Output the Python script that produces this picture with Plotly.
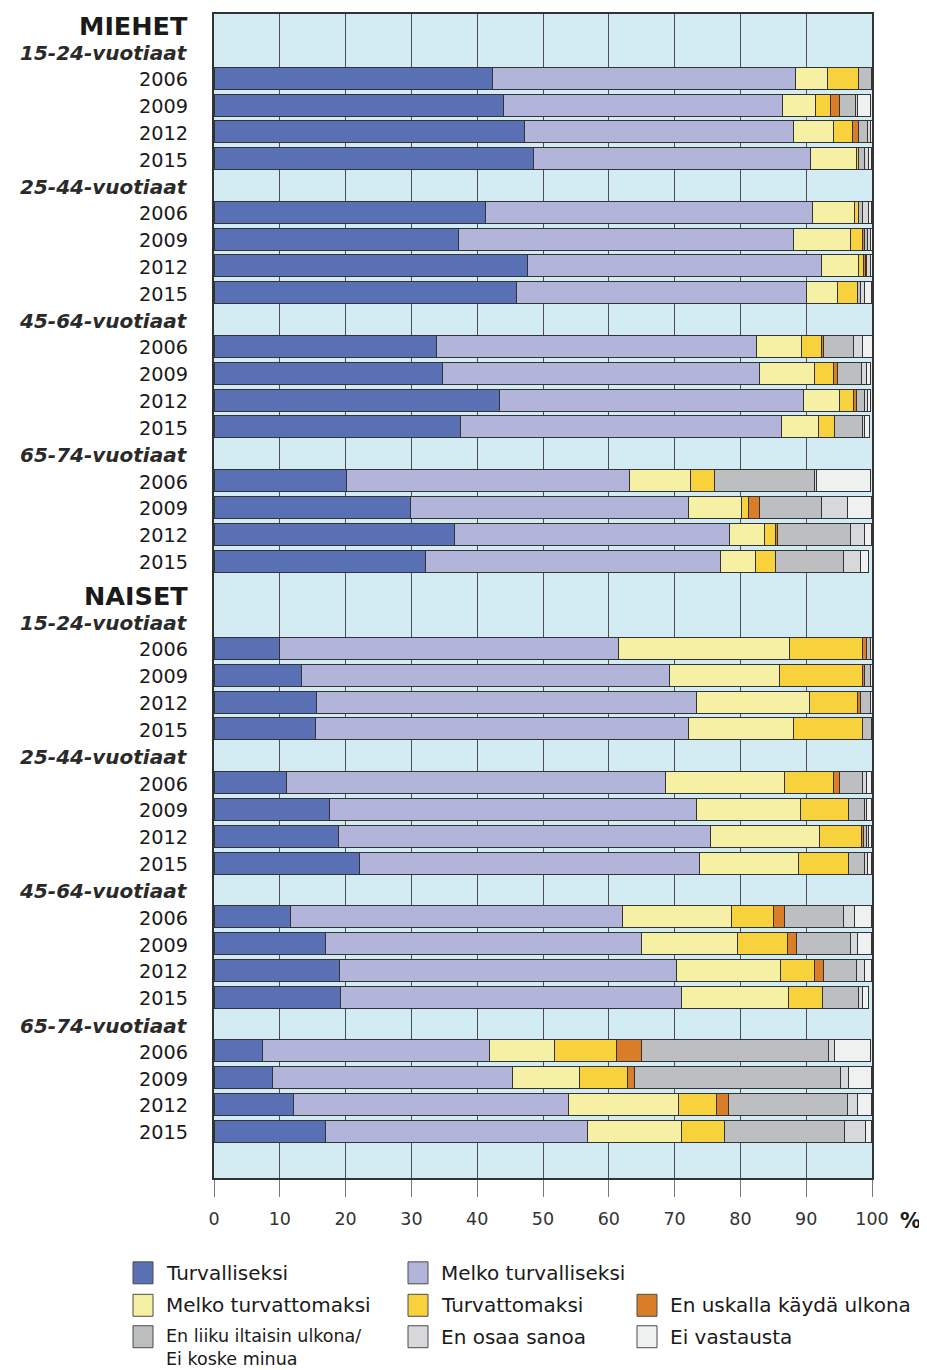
import plotly.graph_objects as go

# ---------------- data ----------------
sections = ["MIEHET", "NAISET"]
age_groups = ["15-24-vuotiaat", "25-44-vuotiaat", "45-64-vuotiaat", "65-74-vuotiaat"]
years = ["2006", "2009", "2012", "2015"]

series_names = [
    "Turvalliseksi",
    "Melko turvalliseksi",
    "Melko turvattomaksi",
    "Turvattomaksi",
    "En uskalla käydä ulkona",
    "En liiku iltaisin ulkona/<br>Ei koske minua",
    "En osaa sanoa",
    "Ei vastausta",
]

# order: MIEHET 15-24 (2006, 2009, 2012, 2015), 25-44, 45-64, 65-74, then NAISET likewise
turvalliseksi = [42.3, 44.0, 47.2, 48.5, 41.2, 37.2, 47.6, 46.0, 33.8, 34.7, 43.4, 37.4, 20.2, 29.8, 36.5, 32.1,
                 9.9, 13.3, 15.6, 15.4, 11.0, 17.6, 18.9, 22.1, 11.7, 16.9, 19.1, 19.2, 7.4, 8.9, 12.1, 16.9]
melko_turvalliseksi = [46.0, 42.4, 40.9, 42.1, 49.8, 50.9, 44.8, 44.0, 48.7, 48.2, 46.2, 48.8, 43.0, 42.3, 41.9, 44.8,
                       51.5, 56.0, 57.8, 56.7, 57.6, 55.8, 56.6, 51.7, 50.4, 48.1, 51.2, 51.8, 34.5, 36.4, 41.8, 39.8]
melko_turvattomaksi = [4.9, 5.0, 6.0, 7.0, 6.4, 8.6, 5.5, 4.7, 6.8, 8.4, 5.5, 5.6, 9.2, 8.1, 5.3, 5.4,
                       26.1, 16.7, 17.1, 16.0, 18.1, 15.7, 16.5, 15.1, 16.5, 14.6, 15.8, 16.3, 9.8, 10.2, 16.7, 14.3]
turvattomaksi = [4.8, 2.3, 2.9, 0.4, 0.5, 1.9, 0.8, 3.1, 3.0, 2.9, 2.1, 2.5, 3.7, 1.1, 1.7, 3.1,
                 11.0, 12.6, 7.3, 10.4, 7.5, 7.4, 6.4, 7.5, 6.4, 7.5, 5.2, 5.2, 9.5, 7.3, 5.8, 6.6]
en_uskalla = [0, 1.4, 0.9, 0, 0, 0.3, 0.3, 0, 0.4, 0.5, 0.4, 0, 0, 1.6, 0.2, 0,
              0.7, 0.2, 0.5, 0, 0.9, 0, 0.3, 0, 1.7, 1.4, 1.3, 0, 3.7, 1.1, 1.8, 0]
en_liiku = [1.9, 2.4, 1.4, 0.9, 0.6, 0.4, 0.2, 0.4, 4.5, 3.7, 1.3, 4.2, 15.2, 9.5, 11.1, 10.3,
            0.5, 0.9, 1.5, 1.4, 3.5, 2.3, 0.4, 2.4, 9.0, 8.2, 5.0, 5.5, 28.5, 31.3, 18.1, 18.2]
en_osaa_sanoa = [0, 0.3, 0.4, 0.5, 1.0, 0.4, 0.5, 0.7, 1.4, 0.7, 0.4, 0.4, 0.3, 3.9, 2.2, 2.6,
                 0, 0, 0, 0, 0.5, 0.3, 0.4, 0.5, 1.7, 1.1, 1.3, 0.5, 0.9, 1.3, 1.5, 3.2]
ei_vastausta = [0.1, 2.0, 0.3, 0.5, 0.4, 0.3, 0.3, 1.0, 1.4, 0.7, 0.5, 0.7, 8.2, 3.6, 1.0, 1.2,
                0.3, 0.3, 0.2, 0.1, 0.8, 0.8, 0.4, 0.6, 2.5, 2.1, 1.0, 1.0, 5.4, 3.4, 2.1, 0.9]

series_values = [turvalliseksi, melko_turvalliseksi, melko_turvattomaksi, turvattomaksi,
                 en_uskalla, en_liiku, en_osaa_sanoa, ei_vastausta]

x_ticks = [0, 10, 20, 30, 40, 50, 60, 70, 80, 90, 100]

# ---------------- style / layout ----------------
colors = ["#5a70b5", "#b3b4da", "#f5f0a4", "#f8d23c", "#d97d29", "#bdbebf", "#d7d8d9", "#eff0f0"]
FONT = "DejaVu Sans"
OFF = 8                                   # page body margin
W, H = 927 - OFF, 1370 - OFF
PL, PR, PT, PB = 214, 872, 12, 1178      # plot area in window pixels
ROW = 26.87                              # pixels per row
SECTION_EXTRA = 0.26                     # extra gap before second section (rows)
TOP = -0.393
BOTTOM = TOP + (PB - PT) / ROW


def px_x(px):
    return (px - PL) / (PR - PL)


def px_y(py):
    return (PB - py) / (PB - PT)


bar_pos = []
labels = []
rows_per_section = 1 + len(age_groups) * (1 + len(years))
for s, sec in enumerate(sections):
    r = s * rows_per_section + s * SECTION_EXTRA
    labels.append((r, sec, "section"))
    r += 1
    for g in age_groups:
        labels.append((r, g, "group"))
        r += 1
        for yr in years:
            labels.append((r, yr, "year"))
            bar_pos.append(r)
            r += 1

fig = go.Figure()
for name, col, vals in zip(series_names, colors, series_values):
    fig.add_trace(go.Bar(
        x=[v if v else None for v in vals],
        y=bar_pos,
        orientation="h",
        width=0.82,
        name=name.replace("<br>", " "),
        marker=dict(color=col, line=dict(color="#333333", width=1)),
        showlegend=False,
    ))

annotations = []
for pos, text, kind in labels:
    if kind == "section":
        font = dict(family=FONT, size=25.5, color="#1a1a1a")
        txt = "<b>%s</b>" % text
    elif kind == "group":
        font = dict(family=FONT, size=20, color="#2a2a2a")
        txt = "<b><i>%s</i></b>" % text
    else:
        font = dict(family=FONT, size=19.3, color="#1a1a1a")
        txt = text
    annotations.append(dict(
        x=px_x(189.5), xref="paper", y=pos, yref="y", text=txt, showarrow=False,
        xanchor="right", yanchor="middle", yshift=-1.5, font=font,
    ))

annotations.append(dict(
    x=px_x(898), xref="paper", y=px_y(1221), yref="paper", text="<b>%</b>", showarrow=False,
    xanchor="left", yanchor="middle", font=dict(family=FONT, size=21, color="#1a1a1a"),
))

# custom legend (3 x 3 grid, first row has two entries)
leg_rows = [1273, 1305.5, 1337]
leg_cols = [133, 408, 637]
leg_slots = [(0, 0), (0, 1), (1, 0), (1, 1), (1, 2), (2, 0), (2, 1), (2, 2)]
LEG_SIZE = 20
shapes = []
for name, col, (ri, ci) in zip(series_names, colors, leg_slots):
    cy = leg_rows[ri]
    x0 = leg_cols[ci]
    shapes.append(dict(
        type="rect", xref="paper", yref="paper",
        x0=px_x(x0), x1=px_x(x0 + 20), y0=px_y(cy + 11), y1=px_y(cy - 11),
        fillcolor=col, line=dict(color="#4a4a4a", width=1),
    ))
    n_lines = name.count("<br>") + 1
    size = LEG_SIZE if n_lines == 1 else 17.5
    annotations.append(dict(
        x=px_x(x0 + 31), xref="paper", y=px_y(cy - 0.65 * size - 1), yref="paper",
        text=name, showarrow=False, xanchor="left", yanchor="top", align="left",
        font=dict(family=FONT, size=size, color="#1a1a1a"),
    ))

fig.update_layout(
    width=W, height=H,
    margin=dict(l=PL - OFF, r=W - (PR - OFF), t=PT - OFF, b=H - (PB - OFF)),
    barmode="stack",
    plot_bgcolor="#d3ebf2",
    paper_bgcolor="white",
    font=dict(family=FONT, color="#1a1a1a"),
    annotations=annotations,
    shapes=shapes,
    xaxis=dict(
        range=[0, 100], tickvals=x_ticks, ticktext=[str(t) for t in x_ticks],
        ticks="outside", ticklen=17, tickcolor="#777777", tickwidth=1,
        showgrid=True, gridcolor="#4d4d4d", gridwidth=1,
        showline=True, mirror=True, linecolor="#333333", linewidth=1.5,
        zeroline=False, tickfont=dict(family=FONT, size=17.5, color="#333333"),
        ticklabelstandoff=7,
    ),
    yaxis=dict(
        range=[BOTTOM, TOP], showticklabels=False, showgrid=False, zeroline=False,
        showline=True, mirror=True, linecolor="#333333", linewidth=1.5, ticks="",
    ),
)

fig.write_html("out.html")
